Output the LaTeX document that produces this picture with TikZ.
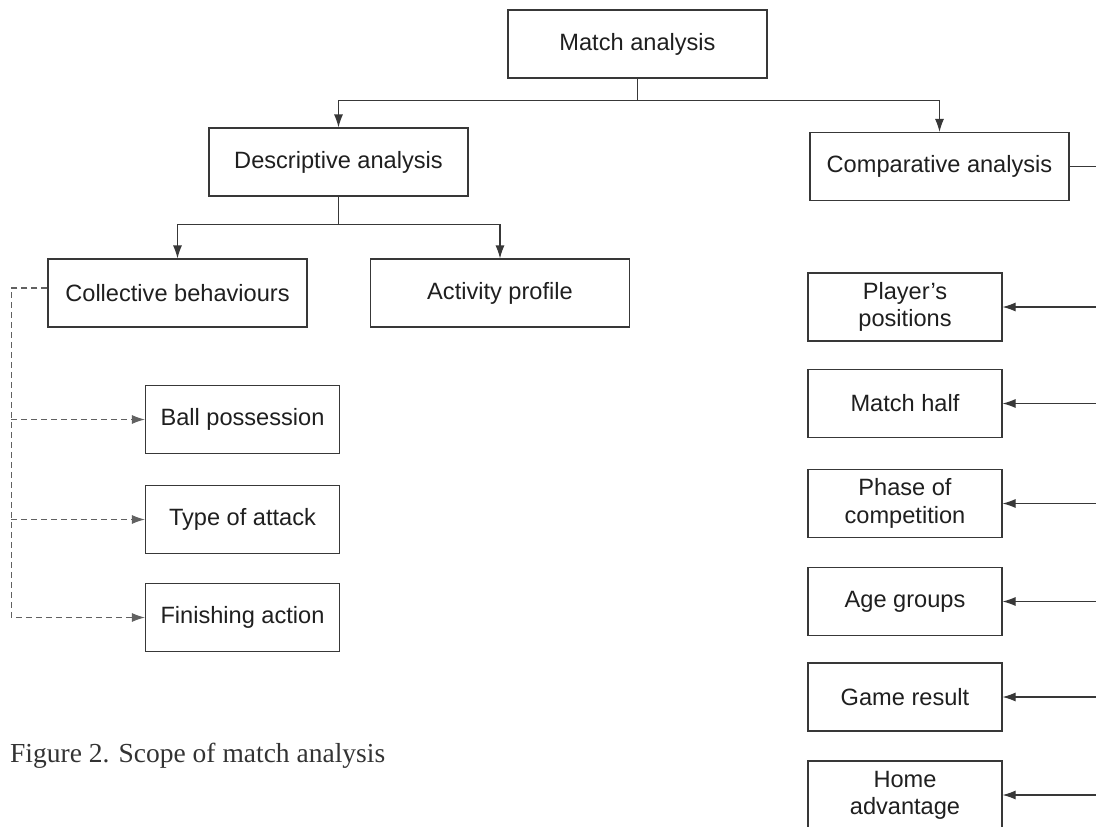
\documentclass[tikz,border=0pt]{standalone}
\usepackage{
  fontspec,       % sans-serif box labels, serif caption
}
\setmainfont{Liberation Sans}
\newfontfamily\figcaptionfont{Liberation Serif}
\usetikzlibrary{arrows.meta}
\tikzset{
  headed/.style={-{Latex[length=13pt,width=9pt]}},
  link/.style={line width=1.1pt, draw=black!78},
  dashlink/.style={link, draw=black!62, dash pattern=on 6pt off 4pt},
  box/.style={draw=black!78, line width=1.1pt, inner sep=0pt, minimum height=68pt,
    align=center, text=black!88, font=\fontsize{23.6}{27.3}\selectfont},
  widebox/.style={box, minimum width=259pt},
  smallbox/.style={box, minimum width=194pt},
}
\newcommand{\GenericScopeBox}[5]{
  \node [#1] (#3) at (#4, #5) {#2};
}
\newcommand{\WideBox}[4]{
  \GenericScopeBox{widebox}{#1}{#2}{#3}{#4}
}
\newcommand{\SmallBox}[4]{
  \GenericScopeBox{smallbox}{#1}{#2}{#3}{#4}
}
\newcommand{\ForkLink}[2]{
  \draw [link, headed] (#1) -| (#2);
}
\newcommand{\RailLink}[1]{
  \draw [link, headed] (rail |- #1.east) -- (#1.east);
}
\newcommand{\DashLink}[1]{
  \draw [dashlink, headed] (dashRail |- #1.west) -- (#1.west);
}

\begin{document}
\begin{tikzpicture}[x=1pt, y=-1pt]

        \clip (0, 0) rectangle (1096, 827);

        % top of the tree
        \WideBox{Match analysis}{match}{637.5}{44}
        \WideBox{Descriptive analysis}{desc}{338.5}{162}
        \WideBox{Comparative analysis}{comp}{939.5}{166.5}
        \draw [link] (match.south) -- ++(0, 22) coordinate (matchFork);
        \ForkLink{matchFork}{desc.north}
        \ForkLink{matchFork}{comp.north}

        % descriptive branch
        \WideBox{Collective behaviours}{coll}{177.5}{293}
        \WideBox{Activity profile}{act}{500}{293}
        \draw [link] (desc.south) -- ++(0, 28) coordinate (descFork);
        \ForkLink{descFork}{coll.north}
        \ForkLink{descFork}{act.north}

        % collective behaviours, dashed
        \SmallBox{Ball possession}{ball}{242.5}{419.5}
        \SmallBox{Type of attack}{attack}{242.5}{519.5}
        \SmallBox{Finishing action}{finish}{242.5}{617.5}
        \draw [dashlink, headed] ([yshift=5pt]coll.west) -- ++(-36, 0) coordinate (dashRail)
          |- (finish.west);
        \DashLink{ball}
        \DashLink{attack}

        % comparative branch, rail off the right edge
        \coordinate (rail) at (1100, 0);
        \draw [link] (comp.east) -- (rail |- comp.east);
        \SmallBox{Player's\\positions}{player}{905}{307}
        \SmallBox{Match half}{half}{905}{403.5}
        \SmallBox{Phase of\\competition}{phase}{905}{503.5}
        \SmallBox{Age groups}{age}{905}{601.5}
        \SmallBox{Game result}{result}{905}{697}
        \SmallBox{Home\\advantage}{home}{905}{795}
        \RailLink{player} \RailLink{half} \RailLink{phase}
        \RailLink{age} \RailLink{result} \RailLink{home}

        % caption
        \node [anchor=base west, inner sep=0pt, text=black!80,
          font=\figcaptionfont\fontsize{27.5}{30}\selectfont] (caption) at (10, 762)
          {Figure 2. Scope of match analysis};

      \end{tikzpicture}
\end{document}
